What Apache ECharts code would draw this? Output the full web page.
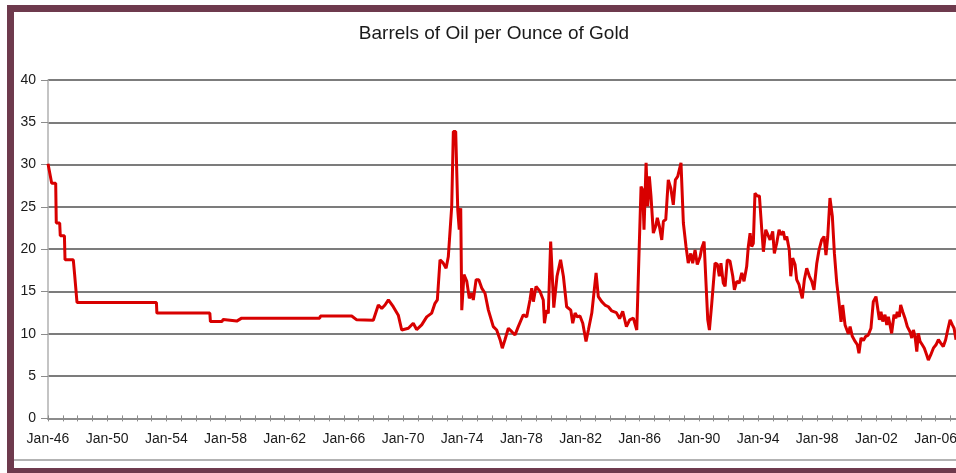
<!DOCTYPE html>
<html>
<head>
<meta charset="utf-8">
<script src="https://cdn.jsdelivr.net/npm/echarts@6/dist/echarts.min.js"></script>
<style>
  html, body { margin: 0; padding: 0; background: #fff; overflow: hidden; }
  #chart { width: 956px; height: 473px; }
</style>
</head>
<body>
<div id="chart"></div>
<script>
// ---- data: [decimal year, barrels of oil per ounce of gold] ----
const era1946to1967 = [
  [1946.00, 30.1], [1946.25, 27.8], [1946.52, 27.8], [1946.56, 23.1], [1946.79, 23.1],
  [1946.83, 21.6], [1947.11, 21.6], [1947.15, 18.75], [1947.71, 18.75], [1947.80, 17.0],
  [1947.96, 13.7], [1953.33, 13.7], [1953.36, 12.45], [1956.94, 12.45], [1956.98, 11.45],
  [1957.75, 11.45], [1957.85, 11.7], [1957.95, 11.5], [1958.76, 11.5], [1959.09, 11.85],
  [1964.37, 11.85], [1964.41, 12.1], [1966.53, 12.1], [1966.87, 11.65], [1967.99, 11.6]
];
const era1968to1985 = [
  [1968.33, 13.4], [1968.56, 13.0], [1968.78, 13.4], [1969.01, 14.0], [1969.34, 13.2],
  [1969.68, 12.2], [1969.91, 10.45], [1970.36, 10.65], [1970.69, 11.25], [1970.92, 10.5],
  [1971.26, 11.05], [1971.60, 12.0], [1971.94, 12.45], [1972.16, 13.6], [1972.32, 14.0],
  [1972.50, 18.75], [1972.72, 18.35], [1972.91, 17.75], [1973.06, 19.1], [1973.29, 25.05],
  [1973.40, 33.9], [1973.56, 33.9], [1973.70, 24.65], [1973.80, 22.3], [1973.90, 24.85],
  [1973.97, 12.8], [1974.12, 17.0], [1974.31, 16.2], [1974.48, 14.2], [1974.64, 14.8],
  [1974.75, 14.0], [1974.94, 16.4], [1975.12, 16.4], [1975.32, 15.4], [1975.54, 14.8],
  [1975.77, 12.8], [1976.10, 10.85], [1976.33, 10.45], [1976.56, 9.3], [1976.71, 8.3],
  [1976.89, 9.3], [1977.12, 10.65], [1977.35, 10.25], [1977.57, 9.85], [1977.79, 10.85],
  [1978.13, 12.25], [1978.36, 12.0], [1978.58, 14.0], [1978.70, 15.4], [1978.81, 13.8],
  [1978.99, 15.6], [1979.26, 15.0], [1979.48, 14.0], [1979.56, 11.25], [1979.70, 12.8],
  [1979.82, 12.4], [1979.98, 20.9], [1980.19, 13.1], [1980.41, 16.8], [1980.65, 18.75],
  [1980.84, 16.8], [1981.06, 13.2], [1981.34, 12.8], [1981.47, 11.25], [1981.63, 12.45],
  [1981.78, 12.0], [1981.96, 12.1], [1982.15, 11.25], [1982.37, 9.1], [1982.53, 10.45],
  [1982.76, 12.45], [1983.05, 17.2], [1983.20, 14.4], [1983.43, 13.8], [1983.65, 13.4],
  [1983.88, 13.2], [1984.11, 12.7], [1984.42, 12.5], [1984.64, 11.8], [1984.85, 12.65],
  [1985.10, 10.85], [1985.32, 11.65], [1985.57, 11.85], [1985.80, 10.45]
];
const era1986to2007 = [
  [1985.97, 20.5], [1986.09, 27.4], [1986.20, 27.0], [1986.29, 22.3], [1986.43, 30.2],
  [1986.54, 25.05], [1986.65, 28.6], [1986.76, 26.3], [1986.92, 21.9], [1987.08, 22.7],
  [1987.19, 23.7], [1987.33, 22.7], [1987.49, 21.1], [1987.60, 23.3], [1987.76, 23.5],
  [1987.93, 28.2], [1988.10, 27.2], [1988.27, 25.25], [1988.41, 28.2], [1988.57, 28.6],
  [1988.79, 30.2], [1988.95, 23.1], [1989.13, 20.3], [1989.28, 18.35], [1989.45, 19.5],
  [1989.58, 18.35], [1989.74, 19.9], [1989.89, 18.2], [1990.08, 19.1], [1990.19, 20.1],
  [1990.35, 20.9], [1990.48, 16.0], [1990.60, 11.65], [1990.71, 10.45], [1990.87, 13.6],
  [1991.09, 18.35], [1991.25, 18.2], [1991.38, 16.8], [1991.49, 18.35], [1991.65, 16.0],
  [1991.77, 15.6], [1991.92, 18.75], [1992.10, 18.6], [1992.29, 16.8], [1992.40, 15.2],
  [1992.56, 16.2], [1992.73, 16.0], [1992.90, 17.2], [1993.05, 16.2], [1993.23, 17.95],
  [1993.34, 20.3], [1993.46, 21.9], [1993.57, 20.3], [1993.68, 20.7], [1993.79, 26.6],
  [1993.95, 26.3], [1994.09, 26.3], [1994.25, 22.3], [1994.36, 19.7], [1994.52, 22.3],
  [1994.65, 22.5], [1994.81, 21.1], [1994.99, 22.1], [1995.10, 19.5], [1995.26, 20.7],
  [1995.42, 22.3], [1995.55, 21.7], [1995.71, 22.1], [1995.82, 21.1], [1995.94, 21.5],
  [1996.11, 19.9], [1996.21, 16.8], [1996.34, 18.95], [1996.50, 18.2], [1996.61, 16.4],
  [1996.77, 15.8], [1996.90, 14.8], [1996.99, 14.2], [1997.13, 16.4], [1997.29, 17.75],
  [1997.47, 16.8], [1997.63, 16.2], [1997.78, 15.2], [1997.97, 18.35], [1998.12, 19.9],
  [1998.30, 21.1], [1998.46, 21.5], [1998.59, 19.3], [1998.71, 21.5], [1998.86, 26.05],
  [1999.02, 23.9], [1999.16, 19.5], [1999.32, 16.0], [1999.43, 14.4], [1999.61, 11.4],
  [1999.72, 13.4], [1999.88, 11.05], [2000.10, 10.0], [2000.22, 10.85], [2000.37, 9.7],
  [2000.56, 9.1], [2000.71, 8.7], [2000.82, 7.7], [2000.96, 9.5], [2001.12, 9.2],
  [2001.28, 9.7], [2001.45, 9.85], [2001.63, 10.65], [2001.79, 13.8], [2001.97, 14.4],
  [2002.09, 14.2], [2002.20, 11.65], [2002.31, 12.6], [2002.43, 11.45], [2002.58, 12.25],
  [2002.70, 11.05], [2002.81, 12.0], [2002.92, 11.05], [2003.03, 10.05], [2003.19, 12.25],
  [2003.32, 11.85], [2003.41, 12.6], [2003.55, 12.0], [2003.64, 13.4], [2003.78, 12.6],
  [2003.93, 11.85], [2004.09, 10.85], [2004.27, 10.25], [2004.39, 9.5], [2004.50, 10.45],
  [2004.61, 9.7], [2004.73, 7.9], [2004.83, 10.05], [2004.95, 9.1], [2005.10, 8.7],
  [2005.24, 8.3], [2005.40, 7.5], [2005.51, 6.9], [2005.67, 7.5], [2005.85, 8.3],
  [2006.03, 8.7], [2006.19, 9.3], [2006.35, 8.9], [2006.52, 8.5], [2006.68, 9.3],
  [2006.82, 10.45], [2006.98, 11.65], [2007.13, 11.05], [2007.25, 10.65], [2007.38, 9.3]
];
const xTickLabels = ['Jan-46', 'Jan-50', 'Jan-54', 'Jan-58', 'Jan-62', 'Jan-66', 'Jan-70', 'Jan-74',
  'Jan-78', 'Jan-82', 'Jan-86', 'Jan-90', 'Jan-94', 'Jan-98', 'Jan-02', 'Jan-06'];
const xStartYear = 1946;
const xEndYear = 2007.38;
const yMin = 0, yMax = 40, yStep = 5;
const titleText = 'Barrels of Oil per Ounce of Gold';

const seriesData = era1946to1967.concat(era1968to1985, era1986to2007);

const chart = echarts.init(document.getElementById('chart'), null, { renderer: 'canvas' });
const maroon = '#6e3a4d';
const font = 'Arial, "Liberation Sans", Helvetica, sans-serif';

chart.setOption({
  backgroundColor: '#ffffff',
  animation: false,
  title: {
    text: titleText,
    left: 489,
    top: 19,
    textAlign: 'center',
    textStyle: { fontFamily: font, fontSize: 19, fontWeight: 'normal', color: '#1a1a1a' }
  },
  grid: { left: 48, right: 0, top: 80, bottom: 54.6, containLabel: false, outerBoundsMode: 'none' },
  xAxis: [{
    type: 'value',
    min: xStartYear,
    max: xEndYear,
    interval: 1,
    axisLine: { show: true, lineStyle: { color: '#8c8c8c', width: 2 } },
    axisTick: { show: true, inside: false, length: 3, lineStyle: { color: '#8c8c8c', width: 1 } },
    splitLine: { show: false },
    axisLabel: {
      margin: 14,
      fontFamily: font, fontSize: 14, color: '#1a1a1a',
      showMaxLabel: false,
      formatter: function (v) {
        const off = Math.round(v) - xStartYear;
        if (Math.abs(v - Math.round(v)) > 1e-6 || off % 4 !== 0) return '';
        return xTickLabels[off / 4] || '';
      }
    }
  }, {
    type: 'value',
    min: xStartYear,
    max: xEndYear,
    interval: 1,
    position: 'bottom',
    axisLine: { show: false },
    axisTick: { show: true, inside: true, length: 3, lineStyle: { color: '#8c8c8c', width: 1 } },
    axisLabel: { show: false },
    splitLine: { show: false }
  }],
  yAxis: {
    type: 'value',
    min: yMin,
    max: yMax,
    interval: yStep,
    axisLine: { show: true, lineStyle: { color: '#b0b0b0', width: 1.5 } },
    axisTick: { show: true, inside: false, length: 7, lineStyle: { color: '#8c8c8c', width: 1 } },
    axisLabel: { margin: 12, fontFamily: font, fontSize: 14, color: '#1a1a1a' },
    splitLine: { show: true, lineStyle: { color: '#505050', width: 1.5 } }
  },
  series: [{
    type: 'line',
    data: seriesData,
    showSymbol: false,
    symbol: 'none',
    lineStyle: { color: '#d80000', width: 3 },
    z: 5
  }],
  graphic: [
    { type: 'rect', shape: { x: 7, y: 5, width: 949, height: 7 }, style: { fill: maroon }, z: 100, silent: true },
    { type: 'rect', shape: { x: 7, y: 5, width: 7, height: 468 }, style: { fill: maroon }, z: 100, silent: true },
    { type: 'rect', shape: { x: 7, y: 468, width: 949, height: 5 }, style: { fill: maroon }, z: 100, silent: true },
    { type: 'line', shape: { x1: 14, y1: 460, x2: 956, y2: 460 }, style: { stroke: '#9a9a9a', lineWidth: 1.5 }, z: 100, silent: true }
  ]
});
</script>
</body>
</html>
